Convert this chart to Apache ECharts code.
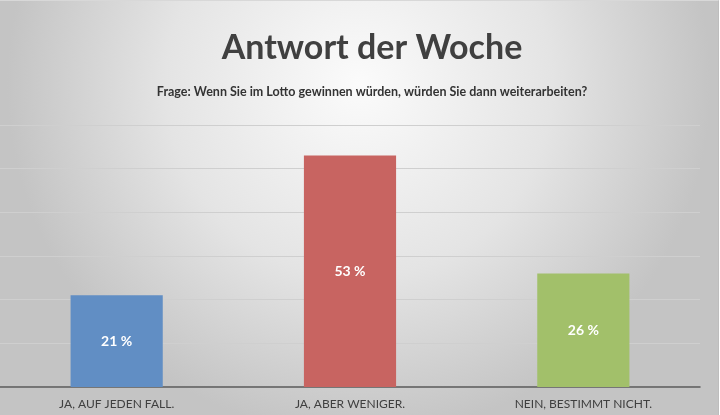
<!DOCTYPE html>
<html>
<head>
    <meta charset="utf-8">
    <title>Antwort der Woche</title>
    <script src="https://cdn.jsdelivr.net/npm/echarts@6/dist/echarts.min.js"></script>
    <style type="text/css">
        * {
            margin: 0;
            padding: 0;
        }

        body {
            width: 720px;
            height: 415px;
            overflow: hidden;
            background: #fff;
        }

        #main {
            width: 718px;
            height: 414px;
            border-top: 1px solid #d8d8d8;
            border-right: 1px solid #bdbdbd;
        }
    </style>
</head>
<body>
<div id="main"></div>
<script type="text/javascript">
    var categories = ['JA, AUF JEDEN FALL.', 'JA, ABER WENIGER.', 'NEIN, BESTIMMT NICHT.'];
    var values = [21, 53, 26];
    var barColors = ['#618EC4', '#C86461', '#A2C06A'];

    var myChart = echarts.init(document.getElementById('main'));
    var fontName = 'Lato';

    var option = {
        backgroundColor: {
            type: 'radial',
            x: 0.5,
            y: 0.2,
            r: 0.85,
            colorStops: [
                {offset: 0, color: '#fbfbfb'},
                {offset: 0.55, color: '#e4e4e4'},
                {offset: 1, color: '#c4c4c4'}
            ]
        },
        title: [{
            text: 'Antwort der Woche',
            left: 367,
            textAlign: 'center',
            top: 25,
            textStyle: {
                fontFamily: fontName,
                fontSize: 34,
                fontWeight: 'bold',
                color: '#404040'
            }
        }, {
            text: 'Frage: Wenn Sie im Lotto gewinnen würden, würden Sie dann weiterarbeiten?',
            left: 367,
            textAlign: 'center',
            top: 79,
            textStyle: {
                fontFamily: fontName,
                fontSize: 12.5,
                fontWeight: 'bold',
                color: '#333333'
            }
        }],
        grid: {
            left: 0,
            right: 18,
            top: 124,
            bottom: 28,
            containLabel: false
        },
        xAxis: {
            type: 'category',
            data: categories,
            axisTick: {show: false},
            axisLine: {
                lineStyle: {color: '#5a5a5a', width: 1.5}
            },
            axisLabel: {
                interval: 0,
                margin: 11,
                fontFamily: fontName,
                fontSize: 12,
                color: '#404040'
            }
        },
        yAxis: {
            type: 'value',
            min: 0,
            max: 60,
            interval: 10,
            axisLabel: {show: false},
            axisLine: {show: false},
            axisTick: {show: false},
            splitLine: {
                lineStyle: {color: '#cfcfcf', width: 1}
            }
        },
        series: [{
            type: 'bar',
            barWidth: '39.5%',
            data: values.map(function (v, i) {
                return {value: v, itemStyle: {color: barColors[i]}};
            }),
            label: {
                show: true,
                position: 'inside',
                formatter: '{c} %',
                fontFamily: fontName,
                fontSize: 14,
                fontWeight: 'bold',
                color: '#ffffff'
            }
        }]
    };
    myChart.setOption(option);
</script>
</body>
</html>
